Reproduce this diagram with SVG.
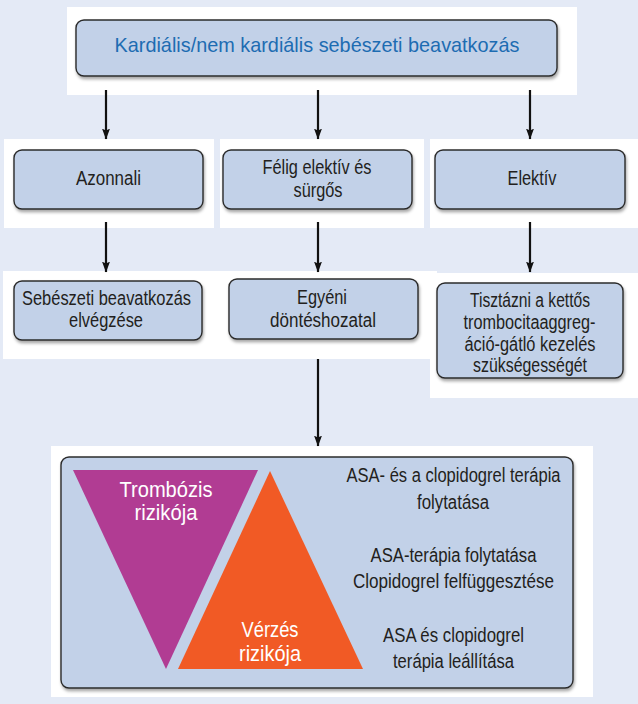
<svg xmlns="http://www.w3.org/2000/svg" width="638" height="704" viewBox="0 0 638 704">
<defs>
<style>
.bg{fill:#e4eaf6}
.patch{fill:#ffffff}
.box{fill:#c2d1e8;stroke:#2b2b2b;stroke-width:1.4;filter:url(#sh)}
.t{font-family:"Liberation Sans",Arial,sans-serif;font-size:19.5px;fill:#231f20;text-anchor:middle}
.top{font-size:21px;fill:#1d6cb2}
.w{font-size:22px;fill:#ffffff}
.ln{stroke:#111;stroke-width:2.2;fill:none;marker-end:url(#ah)}
</style>
<filter id="sh" x="-10%" y="-10%" width="120%" height="130%">
<feDropShadow dx="1" dy="2.5" stdDeviation="1.6" flood-color="#000" flood-opacity="0.35"/>
</filter>
<marker id="ah" viewBox="0 0 11 8" refX="10.5" refY="4" markerWidth="5" markerHeight="3.6" orient="auto" markerUnits="strokeWidth">
<path d="M0,0 L11,4 L0,8 L2,4 Z" fill="#111"/>
</marker>
</defs>
<rect class="bg" x="0" y="0" width="638" height="704"/>
<g id="patches">
<rect class="patch" x="67" y="7" width="510" height="88"/>
<rect class="patch" x="4" y="139" width="210" height="89"/>
<rect class="patch" x="220" y="139" width="204" height="89"/>
<rect class="patch" x="430" y="139" width="208" height="89"/>
<rect class="patch" x="3" y="271" width="217" height="88"/>
<rect class="patch" x="220" y="271" width="217" height="88"/>
<rect class="patch" x="430" y="273" width="208" height="125"/>
<rect class="patch" x="51" y="446" width="542" height="251"/>
</g>
<g id="connectors">
<line class="ln" x1="106" y1="90" x2="106" y2="139"/>
<line class="ln" x1="318" y1="90" x2="318" y2="139"/>
<line class="ln" x1="530" y1="90" x2="530" y2="139"/>
<line class="ln" x1="106" y1="222" x2="106" y2="272"/>
<line class="ln" x1="318" y1="222" x2="318" y2="272"/>
<line class="ln" x1="530" y1="222" x2="530" y2="272"/>
<line class="ln" x1="318" y1="359" x2="318" y2="446"/>
</g>
<g id="n-top">
<rect class="box" x="76" y="20" width="481" height="56" rx="8"/>
<text class="t top" x="317" y="52" textLength="405" lengthAdjust="spacingAndGlyphs">Kardiális/nem kardiális sebészeti beavatkozás</text>
</g>
<g id="n-azonnali">
<rect class="box" x="14" y="150" width="189" height="59" rx="8"/>
<text class="t" x="108.5" y="185" textLength="65" lengthAdjust="spacingAndGlyphs">Azonnali</text>
</g>
<g id="n-felig">
<rect class="box" x="223" y="150" width="189" height="59" rx="8"/>
<text class="t" x="317" y="174" textLength="109" lengthAdjust="spacingAndGlyphs">Félig elektív és</text>
<text class="t" x="318" y="197" textLength="49" lengthAdjust="spacingAndGlyphs">sürgős</text>
</g>
<g id="n-elektiv">
<rect class="box" x="435" y="150" width="190" height="59" rx="8"/>
<text class="t" x="532" y="185" textLength="49" lengthAdjust="spacingAndGlyphs">Elektív</text>
</g>
<g id="n-sebeszeti">
<rect class="box" x="14" y="281" width="188" height="59" rx="8"/>
<text class="t" x="106.5" y="305" textLength="169" lengthAdjust="spacingAndGlyphs">Sebészeti beavatkozás</text>
<text class="t" x="106" y="327" textLength="74" lengthAdjust="spacingAndGlyphs">elvégzése</text>
</g>
<g id="n-egyeni">
<rect class="box" x="229" y="279" width="189" height="60" rx="8"/>
<text class="t" x="322" y="304" textLength="50" lengthAdjust="spacingAndGlyphs">Egyéni</text>
<text class="t" x="323" y="327" textLength="106" lengthAdjust="spacingAndGlyphs">döntéshozatal</text>
</g>
<g id="n-tisztazni">
<rect class="box" x="437" y="283" width="186" height="95" rx="8"/>
<text class="t" x="530" y="307" textLength="120" lengthAdjust="spacingAndGlyphs">Tisztázni a kettős</text>
<text class="t" x="529.5" y="329" textLength="132" lengthAdjust="spacingAndGlyphs">trombocitaaggreg-</text>
<text class="t" x="530" y="351" textLength="131" lengthAdjust="spacingAndGlyphs">áció-gátló kezelés</text>
<text class="t" x="530" y="372" textLength="114" lengthAdjust="spacingAndGlyphs">szükségességét</text>
</g>
<g id="n-risk">
<rect class="box" x="61" y="457" width="512" height="231" rx="8"/>
<polygon points="73,470 258,470 166,669" fill="#b13c93"/>
<polygon points="270,471 363,669 178,669" fill="#f15a25"/>
<text class="t w" x="166" y="497" textLength="93" lengthAdjust="spacingAndGlyphs">Trombózis</text>
<text class="t w" x="166" y="520" textLength="63" lengthAdjust="spacingAndGlyphs">rizikója</text>
<text class="t w" x="270" y="637" textLength="57" lengthAdjust="spacingAndGlyphs">Vérzés</text>
<text class="t w" x="270" y="661" textLength="62" lengthAdjust="spacingAndGlyphs">rizikója</text>
<text class="t" x="453.5" y="482" textLength="214" lengthAdjust="spacingAndGlyphs">ASA- és a clopidogrel terápia</text>
<text class="t" x="453" y="509" textLength="72" lengthAdjust="spacingAndGlyphs">folytatása</text>
<text class="t" x="453.5" y="562" textLength="166" lengthAdjust="spacingAndGlyphs">ASA-terápia folytatása</text>
<text class="t" x="453.5" y="588" textLength="201" lengthAdjust="spacingAndGlyphs">Clopidogrel felfüggesztése</text>
<text class="t" x="453.5" y="642" textLength="141" lengthAdjust="spacingAndGlyphs">ASA és clopidogrel</text>
<text class="t" x="453.5" y="668" textLength="121" lengthAdjust="spacingAndGlyphs">terápia leállítása</text>
</g>
</svg>
